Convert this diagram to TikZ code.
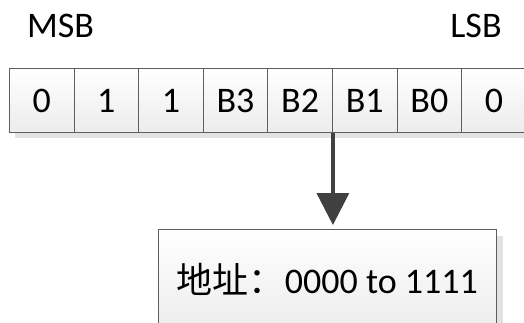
\documentclass[tikz,border=0pt]{standalone}
\usepackage{fontspec}
\setmainfont{Carlito}
\newfontfamily\cjk{Noto Sans CJK SC}
\usetikzlibrary{arrows.meta,shadows}
\definecolor{boxline}{HTML}{5E5E5E}
\definecolor{boxbottom}{HTML}{ECECEC}
\definecolor{shadowgray}{HTML}{E2E2E2}
\definecolor{arrowgray}{HTML}{404040}
\tikzset{
  bigfont/.style={font=\fontsize{36}{42}\selectfont},
  bitbox/.style={draw=boxline, line width=0.9pt, top color=white, bottom color=boxbottom,
    minimum width=64.6pt, minimum height=64pt, inner sep=0pt, anchor=north west, bigfont,
    drop shadow={shadow xshift=6pt, shadow yshift=-6pt, fill=shadowgray, opacity=1}},
  addrbox/.style={draw=boxline, line width=0.9pt, top color=white, bottom color=boxbottom,
    minimum width=338pt, minimum height=100pt, inner sep=0pt, anchor=north west, bigfont,
    drop shadow={shadow xshift=7pt, shadow yshift=-7pt, fill=shadowgray, opacity=1}},
  label/.style={bigfont, anchor=base, inner sep=0pt},
  pointer/.style={draw=arrowgray, line width=3.5pt, -{Triangle[width=32pt,length=32pt]}, shorten >=4pt}
}
\begin{document}
\begin{tikzpicture}[x=1pt,y=-1pt]
  \useasboundingbox (0,0) rectangle (524,322);
  \clip (0,0) rectangle (524,322);
  \fill[white] (0,0) rectangle (524,322);

  % bit order labels
  \node[label] (msb) at (60.5,37) {MSB};
  \node[label] (lsb) at (476,37) {LSB};

  % the eight bits of the address byte
  \node[bitbox] (b1) at (9,68) {0};
  \node[bitbox] (b2) at (73.6,68) {1};
  \node[bitbox] (b3) at (138.2,68) {1};
  \node[bitbox] (b4) at (202.8,68) {B3};
  \node[bitbox] (b5) at (267.4,68) {B2};
  \node[bitbox] (b6) at (332,68) {B1};
  \node[bitbox] (b7) at (396.6,68) {B0};
  \node[bitbox] (b8) at (461.2,68) {0};

  % resulting address range
  \node[addrbox] (addr) at (158,229) {{\cjk 地址：}0000 to 1111};

  \draw[pointer] (b5.south east) -- (b5.south east |- addr.north);
\end{tikzpicture}
\end{document}
